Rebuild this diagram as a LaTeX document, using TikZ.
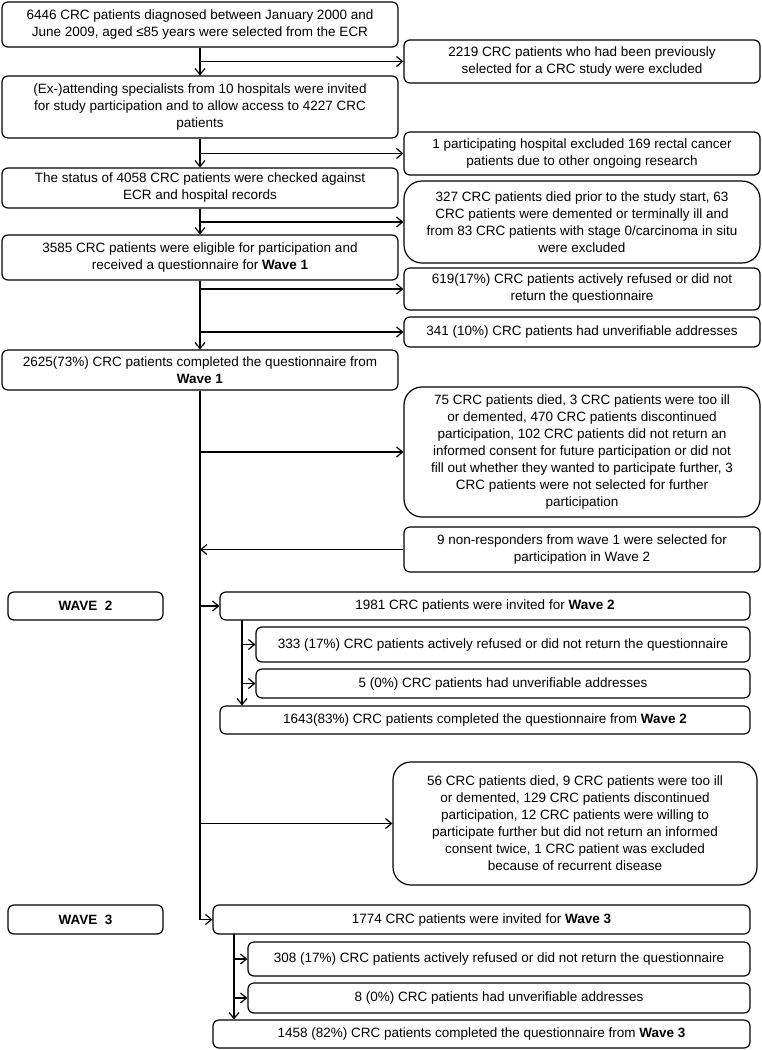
\documentclass[tikz,border=0pt]{standalone}
\usepackage{fontspec}
\setmainfont{Liberation Sans}
\usetikzlibrary{arrows.meta}
\tikzset{
  box/.style={draw, line width=1.2pt, rounded corners=6pt, align=center, inner sep=1pt,
    font=\fontsize{13.5}{17}\selectfont},
  bigbox/.style={box, rounded corners=18pt},
  arr/.style={line width=1.2pt, -{Straight Barb[length=6pt,width=10pt,line width=1.2pt]}},
  ln/.style={line width=1.2pt}
}
\newcommand{\bx}[6]{\node[#1, minimum width=#4-#2, minimum height=#5-#3] (#6) at ({(#2+#4)/2},{(#3+#5)/2})}
\begin{document}
\begin{tikzpicture}[x=1pt,y=-1pt]
\useasboundingbox (0,0) rectangle (761,1050);
% main column
\bx{box}{2}{2}{398}{47}{A} {6446 CRC patients diagnosed between January 2000 and\\June 2009, aged ≤85 years were selected from the ECR};
\bx{box}{2}{76}{398}{138}{B} {(Ex-)attending specialists from 10 hospitals were invited\\for study participation and to allow access to 4227 CRC\\patients};
\bx{box}{2}{168}{398}{208}{C} {The status of 4058 CRC patients were checked against\\ECR and hospital records};
\bx{box}{2}{235}{398}{280}{D} {3585 CRC patients were eligible for participation and\\received a questionnaire for \textbf{Wave 1}};
\bx{box}{2}{350}{398}{390}{E} {2625(73\%) CRC patients completed the questionnaire from\\\textbf{Wave 1}};
% exclusions
\bx{box}{404}{40}{760}{83}{X1} {2219 CRC patients who had been previously\\selected for a CRC study were excluded};
\bx{box}{404}{132}{760}{175}{X2} {1 participating hospital excluded 169 rectal cancer\\patients due to other ongoing research};
\bx{bigbox}{404}{181}{760}{263}{X3} {327 CRC patients died prior to the study start, 63\\CRC patients were demented or terminally ill and\\from 83 CRC patients with stage 0/carcinoma in situ\\were excluded};
\bx{box}{404}{268}{760}{310}{X4} {619(17\%) CRC patients actively refused or did not\\return the questionnaire};
\bx{box}{404}{317}{760}{347}{X5} {341 (10\%) CRC patients had unverifiable addresses};
\bx{bigbox}{404}{387}{760}{517}{X6} {75 CRC patients died, 3 CRC patients were too ill\\or demented, 470 CRC patients discontinued\\participation, 102 CRC patients did not return an\\informed consent for future participation or did not\\fill out whether they wanted to participate further, 3\\CRC patients were not selected for further\\participation};
\bx{box}{404}{527}{760}{572}{X7} {9 non-responders from wave 1 were selected for\\participation in Wave 2};
% wave 2
\bx{box}{8}{592}{163}{620}{L2} {\textbf{WAVE~~2}};
\bx{box}{220}{592}{750}{620}{W2i} {1981 CRC patients were invited for \textbf{Wave 2}};
\bx{box}{256}{627}{750}{662}{W2r} {333 (17\%) CRC patients actively refused or did not return the questionnaire};
\bx{box}{256}{669}{750}{698}{W2u} {5 (0\%) CRC patients had unverifiable addresses};
\bx{box}{220}{706}{750}{734}{W2c} {1643(83\%) CRC patients completed the questionnaire from \textbf{Wave 2}};
\bx{bigbox}{393}{762}{757}{885}{X8} {56 CRC patients died, 9 CRC patients were too ill\\or demented, 129 CRC patients discontinued\\participation, 12 CRC patients were willing to\\participate further but did not return an informed\\consent twice, 1 CRC patient was excluded\\because of recurrent disease};
% wave 3
\bx{box}{8}{905}{163}{934}{L3} {\textbf{WAVE~~3}};
\bx{box}{213}{905}{750}{934}{W3i} {1774 CRC patients were invited for \textbf{Wave 3}};
\bx{box}{248}{942}{750}{976}{W3r} {308 (17\%) CRC patients actively refused or did not return the questionnaire};
\bx{box}{248}{983}{750}{1013}{W3u} {8 (0\%) CRC patients had unverifiable addresses};
\bx{box}{213}{1020}{750}{1048}{W3c} {1458 (82\%) CRC patients completed the questionnaire from \textbf{Wave 3}};
% connectors main
\draw[arr] (A.south) -- (B.north);
\draw[arr] (A.south |- X1.west) -- (X1.west);
\draw[arr] (B.south) -- (C.north);
\draw[arr] (B.south |- X2.west) -- (X2.west);
\draw[arr] (C.south) -- (D.north);
\draw[arr] (C.south |- X3.west) -- (X3.west);
\draw[arr] (D.south) -- (E.north);
\draw[arr] (D.south |- X4.west) -- (X4.west);
\draw[arr] (D.south |- X5.west) -- (X5.west);
\draw[arr] (E.south) -- (E.south |- W3i.west) -- (W3i.west);
\draw[arr] (E.south |- X6.west) -- (X6.west);
\draw[arr] (X7.west) -- (E.south |- X7.west);
\draw[arr] (E.south |- W2i.west) -- (W2i.west);
\draw[arr] (E.south |- X8.west) -- (X8.west);
% wave 2 sub
\coordinate (w2) at (242,620);
\draw[arr] (w2) -- (w2 |- W2c.north);
\draw[arr] (w2 |- W2r.west) -- (W2r.west);
\draw[arr] (w2 |- W2u.west) -- (W2u.west);
% wave 3 sub
\coordinate (w3) at (234,934);
\draw[arr] (w3) -- (w3 |- W3c.north);
\draw[arr] (w3 |- W3r.west) -- (W3r.west);
\draw[arr] (w3 |- W3u.west) -- (W3u.west);
\end{tikzpicture}
\end{document}
